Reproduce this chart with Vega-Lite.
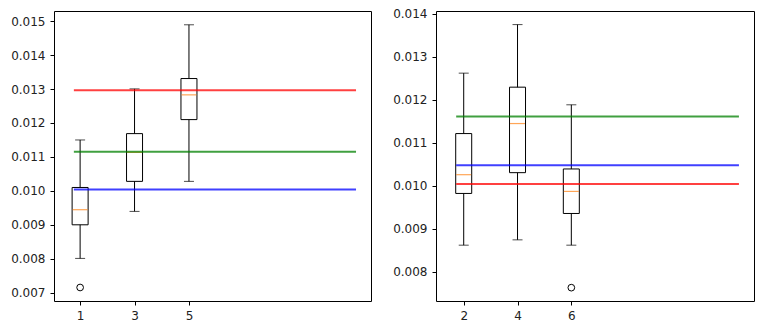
{
  "$schema": "https://vega.github.io/schema/vega-lite/v6.json",
  "padding": {"left": 10, "top": 7, "right": 5, "bottom": 5},
  "background": "white",
  "spacing": 20,
  "config": {
    "view": {"stroke": "black", "strokeWidth": 1},
    "scale": {"continuousPadding": 0},
    "axis": {"domain": false, "grid": false, "tickColor": "black", "tickSize": 4, "labelFont": "DejaVu Sans", "labelFontSize": 12, "labelColor": "#222", "labelPadding": 5, "labelOverlap": false, "tickCount": 20}
  },
  "datasets": {
    "boxes": [
      {"panel": "A", "pos": 1, "low": 0.00801, "q1": 0.00900, "med": 0.009445, "q3": 0.01010, "high": 0.01150},
      {"panel": "A", "pos": 3, "low": 0.009395, "q1": 0.01028, "med": 0.011136, "q3": 0.011687, "high": 0.013005},
      {"panel": "A", "pos": 5, "low": 0.01028, "q1": 0.0121, "med": 0.012829, "q3": 0.01331, "high": 0.014894},
      {"panel": "B", "pos": 2, "low": 0.008615, "q1": 0.009818, "med": 0.010254, "q3": 0.01121, "high": 0.012615},
      {"panel": "B", "pos": 4, "low": 0.008739, "q1": 0.010301, "med": 0.011443, "q3": 0.012289, "high": 0.013744},
      {"panel": "B", "pos": 6, "low": 0.008615, "q1": 0.009352, "med": 0.009865, "q3": 0.010387, "high": 0.011879}
    ],
    "outliers": [
      {"panel": "A", "pos": 1, "value": 0.007153},
      {"panel": "B", "pos": 6, "value": 0.007627}
    ],
    "hlines": [
      {"panel": "A", "series": "line1", "value": 0.012965, "x1": 0.77, "x2": 11.14},
      {"panel": "A", "series": "line2", "value": 0.011156, "x1": 0.77, "x2": 11.14},
      {"panel": "A", "series": "line3", "value": 0.010044, "x1": 0.77, "x2": 11.14},
      {"panel": "B", "series": "line1", "value": 0.010037, "x1": 1.72, "x2": 12.23},
      {"panel": "B", "series": "line2", "value": 0.011606, "x1": 1.72, "x2": 12.23},
      {"panel": "B", "series": "line3", "value": 0.010471, "x1": 1.72, "x2": 12.23}
    ]
  },
  "hconcat": [
    {
      "width": 317,
      "height": 290,
      "layer": [
        {
          "data": {"name": "boxes"},
          "transform": [{"filter": "datum.panel == 'A'"}],
          "mark": {"type": "rule", "color": "black", "strokeWidth": 1},
          "encoding": {
            "x": {"field": "pos", "type": "quantitative", "title": null, "scale": {"domain": [0.04, 11.69], "nice": false, "zero": false, "padding": 0}, "axis": {"values": [1, 3, 5], "format": "d", "labelOverlap": false, "tickCount": 20}},
            "y": {"field": "low", "type": "quantitative", "title": null, "scale": {"domain": [0.006755, 0.0153], "nice": false, "zero": false, "padding": 0}, "axis": {"values": [0.007, 0.008, 0.009, 0.010, 0.011, 0.012, 0.013, 0.014, 0.015], "format": ".3f", "labelOverlap": false, "tickCount": 20}},
            "y2": {"field": "high"}
          }
        },
        {
          "data": {"name": "boxes"},
          "transform": [{"filter": "datum.panel == 'A'"}],
          "mark": {"type": "tick", "orient": "horizontal", "size": 10, "thickness": 1, "color": "black"},
          "encoding": {
            "x": {"field": "pos", "type": "quantitative", "title": null},
            "y": {"field": "low", "type": "quantitative", "title": null}
          }
        },
        {
          "data": {"name": "boxes"},
          "transform": [{"filter": "datum.panel == 'A'"}],
          "mark": {"type": "tick", "orient": "horizontal", "size": 10, "thickness": 1, "color": "black"},
          "encoding": {
            "x": {"field": "pos", "type": "quantitative", "title": null},
            "y": {"field": "high", "type": "quantitative", "title": null}
          }
        },
        {
          "data": {"name": "boxes"},
          "transform": [{"filter": "datum.panel == 'A'"}],
          "mark": {"type": "bar", "width": 16, "fill": "white", "stroke": "black", "strokeWidth": 1},
          "encoding": {
            "x": {"field": "pos", "type": "quantitative", "title": null},
            "y": {"field": "q1", "type": "quantitative", "title": null},
            "y2": {"field": "q3"}
          }
        },
        {
          "data": {"name": "boxes"},
          "transform": [{"filter": "datum.panel == 'A'"}],
          "mark": {"type": "tick", "orient": "horizontal", "size": 15, "thickness": 1.2, "color": "#ff7f0e"},
          "encoding": {
            "x": {"field": "pos", "type": "quantitative", "title": null},
            "y": {"field": "med", "type": "quantitative", "title": null}
          }
        },
        {
          "data": {"name": "outliers"},
          "transform": [{"filter": "datum.panel == 'A'"}],
          "mark": {"type": "point", "shape": "circle", "filled": false, "size": 45, "stroke": "black", "strokeWidth": 1, "opacity": 1},
          "encoding": {
            "x": {"field": "pos", "type": "quantitative", "title": null},
            "y": {"field": "value", "type": "quantitative", "title": null}
          }
        },
        {
          "data": {"name": "hlines"},
          "transform": [{"filter": "datum.panel == 'A'"}],
          "mark": {"type": "rule", "strokeWidth": 2, "opacity": 0.75},
          "encoding": {
            "x": {"field": "x1", "type": "quantitative", "title": null},
            "x2": {"field": "x2"},
            "y": {"field": "value", "type": "quantitative", "title": null},
            "color": {"field": "series", "type": "nominal", "legend": null, "scale": {"domain": ["line1", "line2", "line3"], "range": ["#ff0000", "#008000", "#0000ff"]}}
          }
        }
      ]
    },
    {
      "width": 318,
      "height": 290,
      "layer": [
        {
          "data": {"name": "boxes"},
          "transform": [{"filter": "datum.panel == 'B'"}],
          "mark": {"type": "rule", "color": "black", "strokeWidth": 1},
          "encoding": {
            "x": {"field": "pos", "type": "quantitative", "title": null, "scale": {"domain": [0.97, 12.79], "nice": false, "zero": false, "padding": 0}, "axis": {"values": [2, 4, 6], "format": "d", "labelOverlap": false, "tickCount": 20}},
            "y": {"field": "low", "type": "quantitative", "title": null, "scale": {"domain": [0.007317, 0.01406], "nice": false, "zero": false, "padding": 0}, "axis": {"values": [0.008, 0.009, 0.010, 0.011, 0.012, 0.013, 0.014], "format": ".3f", "labelOverlap": false, "tickCount": 20}},
            "y2": {"field": "high"}
          }
        },
        {
          "data": {"name": "boxes"},
          "transform": [{"filter": "datum.panel == 'B'"}],
          "mark": {"type": "tick", "orient": "horizontal", "size": 10, "thickness": 1, "color": "black"},
          "encoding": {
            "x": {"field": "pos", "type": "quantitative", "title": null},
            "y": {"field": "low", "type": "quantitative", "title": null}
          }
        },
        {
          "data": {"name": "boxes"},
          "transform": [{"filter": "datum.panel == 'B'"}],
          "mark": {"type": "tick", "orient": "horizontal", "size": 10, "thickness": 1, "color": "black"},
          "encoding": {
            "x": {"field": "pos", "type": "quantitative", "title": null},
            "y": {"field": "high", "type": "quantitative", "title": null}
          }
        },
        {
          "data": {"name": "boxes"},
          "transform": [{"filter": "datum.panel == 'B'"}],
          "mark": {"type": "bar", "width": 16, "fill": "white", "stroke": "black", "strokeWidth": 1},
          "encoding": {
            "x": {"field": "pos", "type": "quantitative", "title": null},
            "y": {"field": "q1", "type": "quantitative", "title": null},
            "y2": {"field": "q3"}
          }
        },
        {
          "data": {"name": "boxes"},
          "transform": [{"filter": "datum.panel == 'B'"}],
          "mark": {"type": "tick", "orient": "horizontal", "size": 15, "thickness": 1.2, "color": "#ff7f0e"},
          "encoding": {
            "x": {"field": "pos", "type": "quantitative", "title": null},
            "y": {"field": "med", "type": "quantitative", "title": null}
          }
        },
        {
          "data": {"name": "outliers"},
          "transform": [{"filter": "datum.panel == 'B'"}],
          "mark": {"type": "point", "shape": "circle", "filled": false, "size": 45, "stroke": "black", "strokeWidth": 1, "opacity": 1},
          "encoding": {
            "x": {"field": "pos", "type": "quantitative", "title": null},
            "y": {"field": "value", "type": "quantitative", "title": null}
          }
        },
        {
          "data": {"name": "hlines"},
          "transform": [{"filter": "datum.panel == 'B'"}],
          "mark": {"type": "rule", "strokeWidth": 2, "opacity": 0.75},
          "encoding": {
            "x": {"field": "x1", "type": "quantitative", "title": null},
            "x2": {"field": "x2"},
            "y": {"field": "value", "type": "quantitative", "title": null},
            "color": {"field": "series", "type": "nominal", "legend": null, "scale": {"domain": ["line1", "line2", "line3"], "range": ["#ff0000", "#008000", "#0000ff"]}}
          }
        }
      ]
    }
  ]
}
